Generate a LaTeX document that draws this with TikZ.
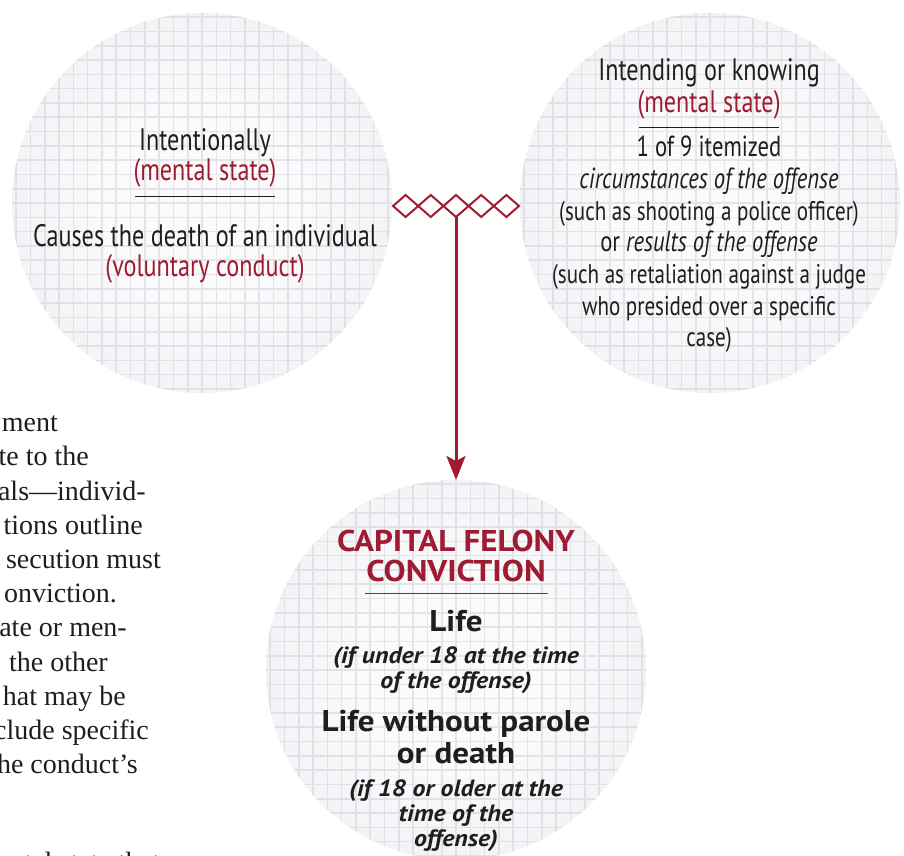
\documentclass[tikz,border=0pt]{standalone}
\usepackage{fontspec}
\setmainfont{Liberation Serif}
\newfontfamily\cond[FakeStretch=0.78]{PT Sans}
\newfontfamily\bsans[FakeStretch=1.1]{PT Sans}
\usetikzlibrary{shapes.geometric,arrows.meta}
\definecolor{crim}{RGB}{158,27,50}
\definecolor{ink}{RGB}{30,30,30}
\definecolor{sphC}{RGB}{251,251,252}
\definecolor{sphM}{RGB}{237,237,241}
\definecolor{sphE}{RGB}{218,218,226}
\definecolor{gridc}{RGB}{200,200,214}
\pgfdeclareradialshading{sphere}{\pgfpoint{0bp}{0bp}}{color(0bp)=(sphC); color(12bp)=(sphC); color(36bp)=(sphM); color(50bp)=(sphE); color(72bp)=(sphE)}
\tikzset{
  gridline/.style={draw=gridc, draw opacity=0.45, line width=1.6pt, step=14.3pt},
  ball/.style={circle, minimum size=380pt, inner sep=0pt, outer sep=0pt, shading=sphere,
    path picture={\draw[gridline] ([shift={(-200,-200)}]path picture bounding box.center) grid ([shift={(200,200)}]path picture bounding box.center);}},
  link/.style={diamond, draw=crim, line width=2pt, minimum width=25.2pt, minimum height=22pt, inner sep=0pt, outer sep=0pt},
  flow/.style={draw=crim, line width=3pt, -{Stealth[length=24pt,width=19pt,inset=5pt]}},
  txt/.style={anchor=base, inner sep=0pt, text=ink},
  big/.style={txt, font=\cond\fontsize{31}{31}\selectfont},
  mid/.style={txt, font=\cond\fontsize{29}{30}\selectfont},
  small/.style={txt, font=\cond\fontsize{27}{30}\selectfont},
  redtxt/.style={text=crim},
  head/.style={txt, text=crim, font=\bsans\bfseries\fontsize{30}{31}\selectfont},
  bold/.style={txt, font=\bsans\bfseries\fontsize{30}{31}\selectfont},
  note/.style={txt, font=\bsans\bfseries\itshape\fontsize{23.5}{24}\selectfont},
  body/.style={anchor=base east, inner sep=0pt, text=ink, font=\fontsize{28}{34}\selectfont},
  rulel/.style={draw=ink, line width=1pt},
}
\begin{document}
\begin{tikzpicture}[x=1pt,y=-1pt]
\useasboundingbox (0,0) rectangle (904,855);
\clip (0,0) rectangle (904,855);
% spheres
\node[ball] (L) at (202,203) {};
\node[ball] (R) at (710,203) {};
\node[ball] (B) at (456,670) {};
% diamond chain linking the two upper spheres
\foreach \i/\x in {1/405.6,2/430.8,3/456,4/481.2,5/506.4}
  \node[link] (d\i) at (\x,206) {};
\draw[flow] (d3.south) -- (B.north);
% left sphere text
\node[big] (l1) at (205,150) {Intentionally};
\node[big, redtxt] (l2) at (205,180) {(mental state)};
\coordinate (lra) at (135,196);
\coordinate (lrb) at (275,196);
\draw[rulel] (lra) -- (lrb);
\node[big] (l3) at (205,246.7) {Causes the death of an individual};
\node[big, redtxt] (l4) at (205,276.7) {(voluntary conduct)};
% right sphere text
\node[big] (r1) at (709,80.7) {Intending or knowing};
\node[big, redtxt] (r2) at (709,112.7) {(mental state)};
\coordinate (rra) at (639,127.3);
\coordinate (rrb) at (779,127.3);
\draw[rulel] (rra) -- (rrb);
\node[mid] (r3) at (709,156.7) {1 of 9 itemized};
\node[mid] (r4) at (709,188.3) {\itshape circumstances of the offense};
\node[small] (r5) at (709,220.7) {(such as shooting a police officer)};
\node[mid] (r6) at (709,251.7) {or \textit{results of the offense}};
\node[small] (r7) at (709,283.3) {(such as retaliation against a judge};
\node[small] (r8) at (709,315) {who presided over a specific};
\node[small] (r9) at (709,346.7) {case)};
% bottom sphere text
\node[head] (b1) at (456,551.7) {CAPITAL FELONY};
\node[head] (b2) at (456,581.7) {CONVICTION};
\coordinate (bra) at (365,593.3);
\coordinate (brb) at (548,593.3);
\draw[draw=crim, line width=1.5pt] (bra) -- (brb);
\node[bold] (b3) at (456,631.7) {Life};
\node[note] (b4) at (456,663.3) {(if under 18 at the time};
\node[note] (b5) at (456,688.3) {of the offense)};
\node[bold] (b6) at (456,731.7) {Life without parole};
\node[bold] (b7) at (456,763.3) {or death};
\node[note] (b8) at (456,796) {(if 18 or older at the};
\node[note] (b9) at (456,821.7) {time of the};
\node[note] (b10) at (456,846) {offense)};
% page body text cut at the left edge
\node[body] (t1) at (58,431.7) {ment};
\node[body] (t2) at (89,465.9) {te to the};
\node[body] (t3) at (146,500.1) {als—individ-};
\node[body] (t4) at (143,534.3) {tions outline};
\node[body] (t5) at (161,568.5) {secution must};
\node[body] (t6) at (117,602.7) {onviction.};
\node[body] (t7) at (127,636.9) {ate or men-};
\node[body] (t8) at (108,671.1) {the other};
\node[body] (t9) at (126,705.3) {hat may be};
\node[body] (t10) at (149,739.5) {clude specific};
\node[body] (t11) at (138,773.7) {he conduct’s};
\node[body] (t12) at (160,871) {ntal state that};
\end{tikzpicture}
\end{document}
